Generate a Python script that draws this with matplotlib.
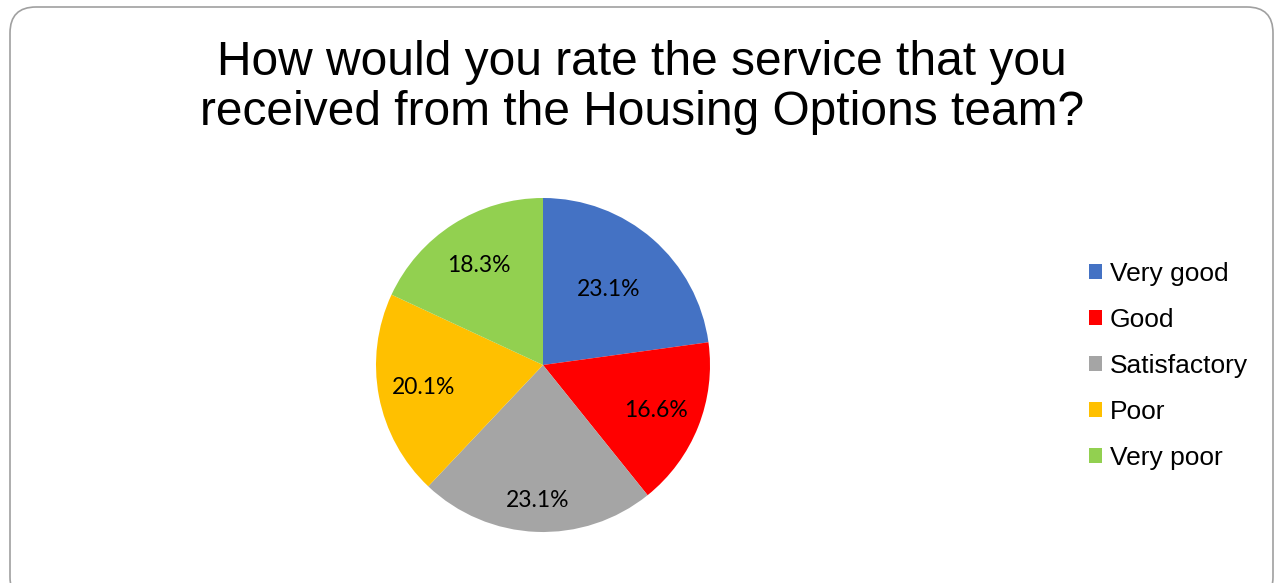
import numpy as np
import matplotlib
matplotlib.use("Agg")
import matplotlib.pyplot as plt
from matplotlib.patches import FancyBboxPatch, Patch
from matplotlib.transforms import IdentityTransform

# Survey responses (percent of respondents)
categories = ["Very good", "Good", "Satisfactory", "Poor", "Very poor"]
shares = [23.1, 16.6, 23.1, 20.1, 18.3]
colors = ["#4472c4", "#ff0000", "#a5a5a5", "#ffc000", "#92d050"]
# how far out each percentage sits along its wedge
label_radius = [0.60, 0.73, 0.81, 0.73, 0.71]

title = "How would you rate the service that you\nreceived from the Housing Options team?"

W, H = 1274, 583
fig = plt.figure(figsize=(W / 100, H / 100), dpi=100)

# rounded frame around the whole chart (bottom runs off the canvas)
frame = FancyBboxPatch((10, -20), 1263, 596,
                       boxstyle="round,pad=0,rounding_size=26",
                       transform=IdentityTransform(), fill=False,
                       edgecolor="#a0a0a0", linewidth=1.2)
fig.patches.append(frame)

fig.text(642 / W, 1 - 40 / H, title, ha="center", va="top",
         fontsize=34.5, family="Liberation Sans", linespacing=1.15,
         color="#000000")

cx, cy, r = 543, 365, 167
ax = fig.add_axes([(cx - r) / W, (H - cy - r) / H, 2 * r / W, 2 * r / H])
wedges, _ = ax.pie(shares, colors=colors, startangle=90, counterclock=False,
                   radius=1, wedgeprops=dict(linewidth=0))
ax.set_xlim(-1, 1)
ax.set_ylim(-1, 1)
ax.set_aspect("equal")
ax.axis("off")

for w, val, d in zip(wedges, shares, label_radius):
    mid = np.deg2rad((w.theta1 + w.theta2) / 2)
    ax.text(d * np.cos(mid), d * np.sin(mid), f"{val:.1f}%",
            ha="center", va="center", fontsize=16.5, family="Lato",
            color="#000000")

handles = [Patch(facecolor=c, edgecolor="none", label=l)
           for c, l in zip(colors, categories)]
fig.legend(handles=handles, loc="center left",
           bbox_to_anchor=(1089 / W, 1 - 366 / H), frameon=False,
           prop={"family": "Liberation Sans", "size": 19},
           handlelength=0.5, handleheight=0.5, handletextpad=0.28,
           labelspacing=0.84, borderpad=0, borderaxespad=0)

fig.savefig("out.png", dpi=100)
